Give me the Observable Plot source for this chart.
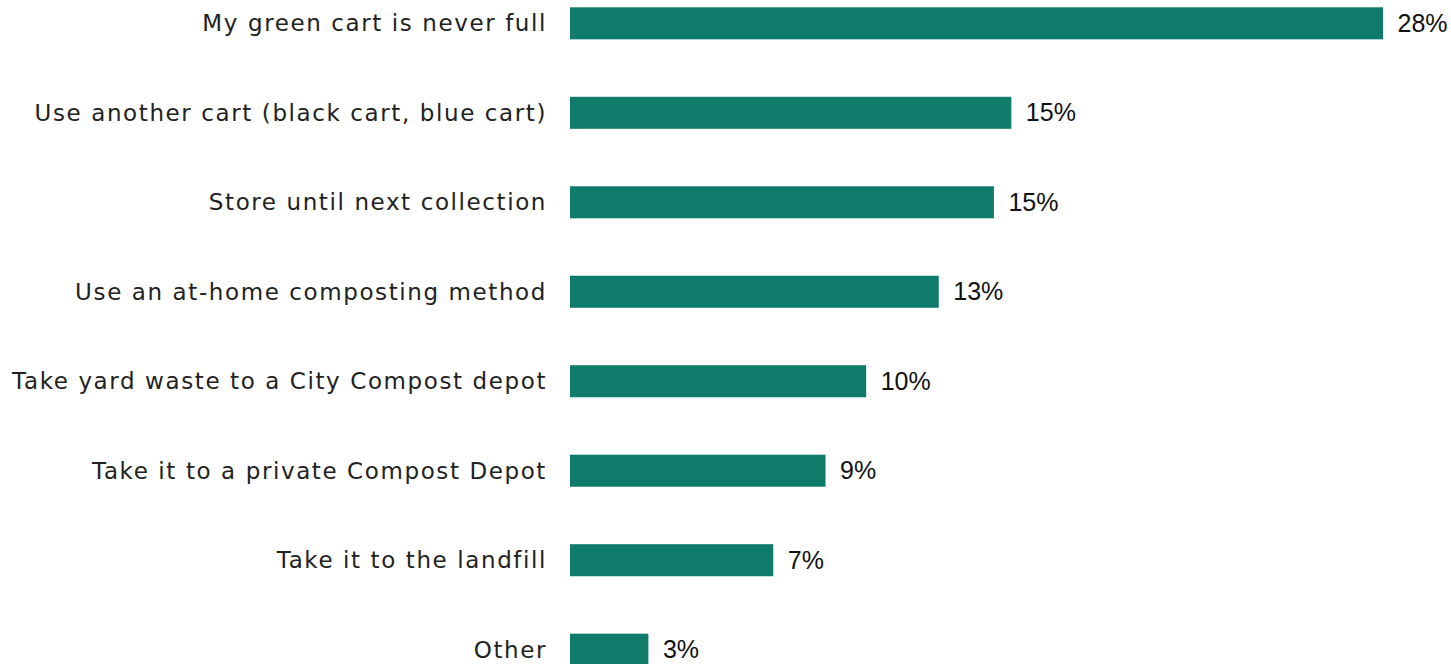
<!DOCTYPE html>
<html>
<head>
<meta charset="utf-8">
<script src="https://cdn.jsdelivr.net/npm/d3@7"></script>
<script src="https://cdn.jsdelivr.net/npm/@observablehq/plot@0.6"></script>
<style>
  html, body { margin: 0; padding: 0; background: #fff; overflow: hidden; }
  #chart svg { display: block; }
</style>
</head>
<body>
<div id="chart"></div>
<script>
const categories = [
  "My green cart is never full",
  "Use another cart (black cart, blue cart)",
  "Store until next collection",
  "Use an at-home composting method",
  "Take yard waste to a City Compost depot",
  "Take it to a private Compost Depot",
  "Take it to the landfill",
  "Other"
];
const values = [28.0, 15.2, 14.6, 12.7, 10.2, 8.8, 7.0, 2.7];
const valueLabels = ["28%", "15%", "15%", "13%", "10%", "9%", "7%", "3%"];

const data = categories.map((c, i) => ({category: c, value: values[i], label: valueLabels[i]}));

const chart = Plot.plot({
  width: 1451,
  height: 673,
  marginLeft: 570,
  marginRight: 68,
  marginTop: 0,
  marginBottom: 0,
  x: {domain: [0, 28], axis: null},
  y: {domain: categories, paddingInner: 0.642, paddingOuter: 0.0816, round: false, label: null},
  marks: [
    Plot.barX(data, {x: "value", y: "category", fill: "#0f7b6b"}),
    Plot.text(data, {x: "value", y: "category", text: "label", dx: 14, textAnchor: "start",
      fontSize: 25, fontFamily: "'Liberation Sans', Arial, sans-serif", fill: "#111"}),
    Plot.axisY({tickSize: 0, tickPadding: 23.5, fontSize: 23, fontFamily: "'DejaVu Sans', sans-serif", fill: "#222", label: null})
  ]
});
d3.select(chart).selectAll("g[aria-label='y-axis tick label'] text").style("letter-spacing", "1.6px");
document.getElementById("chart").appendChild(chart);
</script>
</body>
</html>
